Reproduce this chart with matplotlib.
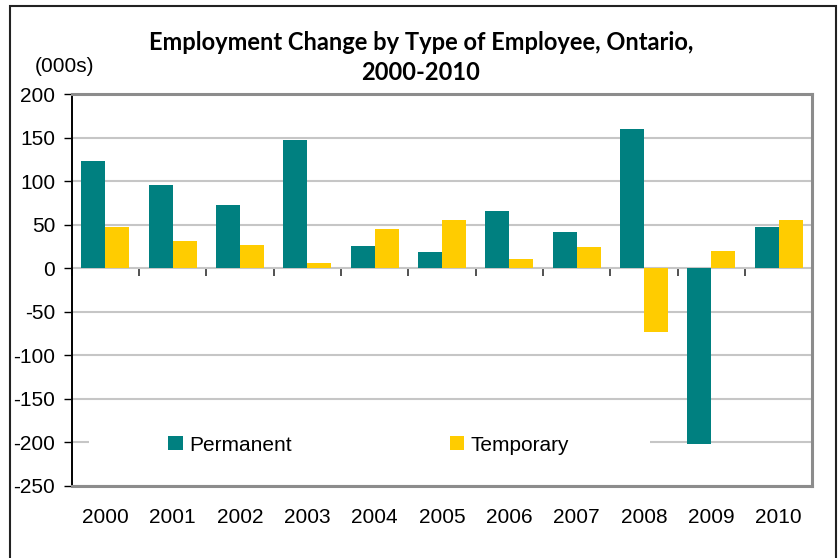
import numpy as np
import matplotlib
matplotlib.use("Agg")
import matplotlib.pyplot as plt
from matplotlib.patches import Rectangle

years = ["2000", "2001", "2002", "2003", "2004", "2005",
         "2006", "2007", "2008", "2009", "2010"]
permanent = [123, 96, 73, 147, 26, 19, 66, 42, 160, -202, 48]
temporary = [47, 31, 27, 6, 45, 56, 11, 24, -73, 20, 56]
yticks = [-250, -200, -150, -100, -50, 0, 50, 100, 150, 200]

teal = "#008080"
gold = "#FFCC00"

plt.rcParams['font.family'] = ['Liberation Sans', 'DejaVu Sans']

fig = plt.figure(figsize=(8.4, 5.58), dpi=100)
ax = fig.add_axes([0.0854, 0.1294, 0.967 - 0.0854, 0.831 - 0.1294])

x = np.arange(len(years))
w = 0.357
ax.bar(x - w / 2, permanent, w, color=teal, label="Permanent", zorder=2)
ax.bar(x + w / 2, temporary, w, color=gold, label="Temporary", zorder=2)

ax.set_xlim(-0.5, len(years) - 0.5)
ax.set_ylim(-250, 200)
ax.set_yticks(yticks)
ax.set_yticklabels([str(v) for v in yticks], fontsize=15)
ax.tick_params(axis='y', direction='out', length=6, width=1, color='black', pad=6)

ax.set_xticks(x)
ax.set_xticklabels(years, fontsize=15)
ax.tick_params(axis='x', length=0, pad=16)

ax.set_axisbelow(True)
ax.yaxis.grid(True, color='#c6c6c6', linewidth=1.5)

for side in ('top', 'right', 'bottom'):
    ax.spines[side].set_color('#8c8c8c')
    ax.spines[side].set_linewidth(2.2)
ax.spines['left'].set_color('black')
ax.spines['left'].set_linewidth(1.4)

# zero axis with category separators hanging below it
zero_ax = ax.secondary_xaxis(250 / 450)
for sp in zero_ax.spines.values():
    sp.set_color('black')
    sp.set_linewidth(1.4)
zero_ax.set_xticks(np.arange(len(years) + 1) - 0.5)
zero_ax.set_xticklabels([])
zero_ax.tick_params(direction='in', length=6, width=1.2, color='#333333')

# white band behind the legend
band_x0 = (89 - 71.7) / (812.3 - 71.7)
band_x1 = (650 - 71.7) / (812.3 - 71.7)
ax.add_patch(Rectangle((band_x0, 0.07), band_x1 - band_x0, 0.07,
                       transform=ax.transAxes, facecolor='white',
                       edgecolor='none', zorder=1))

leg = ax.legend(loc='center left', bbox_to_anchor=((160 - 71.7) / (812.3 - 71.7), 0.104),
                ncol=2, frameon=False, fontsize=15, handlelength=0.68,
                handleheight=0.68, handletextpad=0.3, columnspacing=7.6,
                borderaxespad=0)

fig.text(421 / 840, 1 - 42 / 558, "Employment Change by Type of Employee, Ontario,",
         ha='center', va='center', fontsize=17, fontweight='bold', family='Lato')
fig.text(421 / 840, 1 - 73 / 558, "2000-2010",
         ha='center', va='center', fontsize=17, fontweight='bold', family='Lato')
fig.text(64 / 840, 1 - 67 / 558, "(000s)", ha='center', va='center', fontsize=15)

fig.patches.append(Rectangle((10 / 840, -0.02), 826 / 840, 1 - 6 / 558 + 0.02,
                             transform=fig.transFigure, fill=False,
                             edgecolor='#222222', linewidth=1.5))

fig.savefig("out.png", dpi=100)
